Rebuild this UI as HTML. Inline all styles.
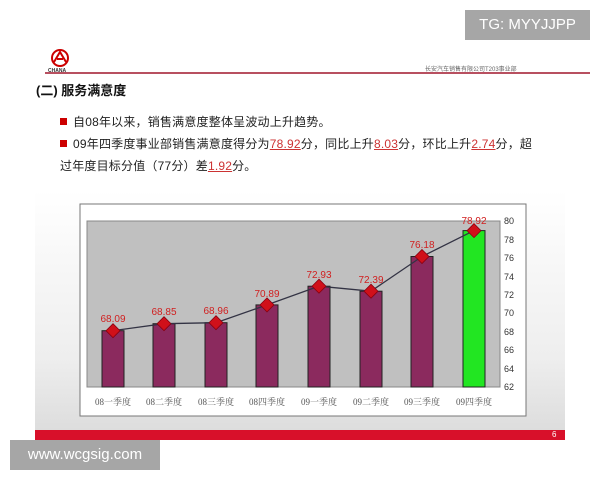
<!DOCTYPE html><html><head><meta charset="utf-8"><style>
body{margin:0;width:600px;height:480px;background:#fff;position:relative;overflow:hidden;font-family:"Liberation Sans","Noto Sans CJK SC",sans-serif}
.a{position:absolute}
.t{font-size:12px;letter-spacing:0.2px;color:#222;white-space:nowrap}
u{color:#c33;text-decoration-color:#c33}
.sq{display:inline-block;width:7px;height:7px;background:#c00;margin-right:6px;vertical-align:1px}
</style></head><body>
<div class="a" style="left:35px;top:190px;width:530px;height:240px;background:linear-gradient(#fff,#eee 70%,#ddd)"></div>
<div class="a" style="left:35px;top:430px;width:530px;height:10px;background:#d8102a"></div>
<div class="a" style="left:552px;top:430px;font-size:8px;color:#fff">6</div>
<div class="a" style="left:465px;top:10px;width:125px;height:30px;background:#a6a6a6;color:#fff;font-size:15px;line-height:30px;text-align:center">TG: MYYJJPP</div>
<div class="a" style="left:10px;top:440px;width:150px;height:30px;background:#a6a6a6;color:#fff;font-size:15px;line-height:30px;text-align:center">www.wcgsig.com</div>
<svg class="a" style="left:46px;top:48px" width="28" height="26"><circle cx="14" cy="10" r="8" fill="none" stroke="#c00" stroke-width="2"/><path d="M8 14 L14 4 L20 14 M11 11 H17" stroke="#c00" stroke-width="2" fill="none"/><text x="2" y="24" font-size="5" fill="#333" font-weight="bold">CHANA</text></svg>
<div class="a" style="left:425px;top:64px;font-size:6px;color:#666">长安汽车销售有限公司T203事业部</div>
<div class="a" style="left:45px;top:72px;width:545px;height:2px;background:#b85060"></div>
<div class="a" style="left:36px;top:80px;font-size:13px;font-weight:bold;color:#111">(二) 服务满意度</div>
<div class="a t" style="left:60px;top:113px"><span class="sq"></span>自08年以来，销售满意度整体呈波动上升趋势。</div>
<div class="a t" style="left:60px;top:135px"><span class="sq"></span>09年四季度事业部销售满意度得分为<u>78.92</u>分，同比上升<u>8.03</u>分，环比上升<u>2.74</u>分，超</div>
<div class="a t" style="left:60px;top:157px">过年度目标分值（77分）差<u>1.92</u>分。</div>
<svg class="a" style="left:0;top:0" width="600" height="480">
<rect x="80" y="204" width="446" height="212" fill="#fff" stroke="#777"/>
<rect x="87" y="221" width="413" height="166" fill="#c0c0c0" stroke="#888"/>
<g font-size="9" fill="#333">
<text x="504" y="224">80</text><text x="504" y="243">78</text><text x="504" y="261">76</text><text x="504" y="280">74</text><text x="504" y="298">72</text><text x="504" y="316">70</text><text x="504" y="335">68</text><text x="504" y="353">66</text><text x="504" y="372">64</text><text x="504" y="390">62</text>
</g>
<g stroke="#222" stroke-width="1">
<rect x="102" y="330.7" width="22" height="56.3" fill="#8b2a5e"/>
<rect x="153" y="323.7" width="22" height="63.3" fill="#8b2a5e"/>
<rect x="205" y="322.7" width="22" height="64.3" fill="#8b2a5e"/>
<rect x="256" y="304.9" width="22" height="82.1" fill="#8b2a5e"/>
<rect x="308" y="286.2" width="22" height="100.8" fill="#8b2a5e"/>
<rect x="360" y="291.2" width="22" height="95.8" fill="#8b2a5e"/>
<rect x="411" y="256.5" width="22" height="130.5" fill="#8b2a5e"/>
<rect x="463" y="230.6" width="22" height="156.4" fill="#22e622"/>
</g>
<polyline points="113,330.7 164,323.7 216,322.7 267,304.9 319,286.2 371,291.2 422,256.5 474,230.6" fill="none" stroke="#334" stroke-width="1.3"/>
<g fill="#d0101a" stroke="#801" stroke-width="0.8">
<path d="M113 323.7l7 7-7 7-7-7z"/><path d="M164 316.7l7 7-7 7-7-7z"/><path d="M216 315.7l7 7-7 7-7-7z"/><path d="M267 297.9l7 7-7 7-7-7z"/><path d="M319 279.2l7 7-7 7-7-7z"/><path d="M371 284.2l7 7-7 7-7-7z"/><path d="M422 249.5l7 7-7 7-7-7z"/><path d="M474 223.6l7 7-7 7-7-7z"/>
</g>
<g font-size="10" fill="#d02020" text-anchor="middle">
<text x="113" y="322">68.09</text><text x="164" y="315">68.85</text><text x="216" y="314">68.96</text><text x="267" y="297">70.89</text><text x="319" y="278">72.93</text><text x="371" y="283">72.39</text><text x="422" y="248">76.18</text><text x="474" y="224">78.92</text>
</g>
<g font-size="9" fill="#555" text-anchor="middle" font-family="Liberation Serif,Noto Serif CJK SC,serif">
<text x="113" y="405">08一季度</text><text x="164" y="405">08二季度</text><text x="216" y="405">08三季度</text><text x="267" y="405">08四季度</text><text x="319" y="405">09一季度</text><text x="371" y="405">09二季度</text><text x="422" y="405">09三季度</text><text x="474" y="405">09四季度</text>
</g>
</svg>
</body></html>
